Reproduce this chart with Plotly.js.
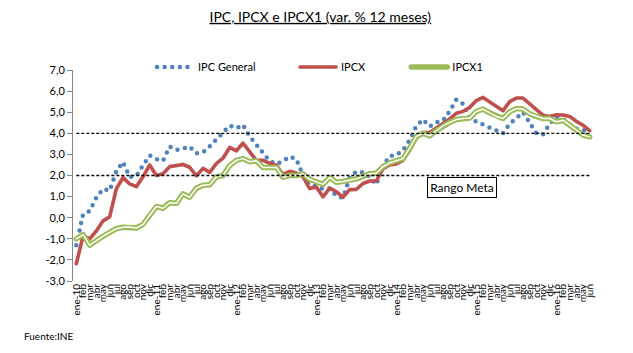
<!DOCTYPE html>
<html>
<head>
<meta charset="utf-8">
<script src="https://cdn.plot.ly/plotly-3.0.1.min.js"></script>
<style>
  html, body { margin: 0; padding: 0; background: #fff; }
  #chart { width: 633px; height: 353px; }
  .js-line { stroke-linecap: round; stroke-linejoin: round; }
</style>
</head>
<body>
<div id="chart"></div>
<script>
// Categories (monthly, ene-10 .. jun-16)
const months = [
  'ene-10','feb-10','mar-10','abr-10','may-10','jun-10','jul-10','ago-10','sep-10','oct-10','nov-10','dic-10',
  'ene-11','feb-11','mar-11','abr-11','may-11','jun-11','jul-11','ago-11','sep-11','oct-11','nov-11','dic-11',
  'ene-12','feb-12','mar-12','abr-12','may-12','jun-12','jul-12','ago-12','sep-12','oct-12','nov-12','dic-12',
  'ene-13','feb-13','mar-13','abr-13','may-13','jun-13','jul-13','ago-13','sep-13','oct-13','nov-13','dic-13',
  'ene-14','feb-14','mar-14','abr-14','may-14','jun-14','jul-14','ago-14','sep-14','oct-14','nov-14','dic-14',
  'ene-15','feb-15','mar-15','abr-15','may-15','jun-15','jul-15','ago-15','sep-15','oct-15','nov-15','dic-15',
  'ene-16','feb-16','mar-16','abr-16','may-16','jun-16'
];
// Tick labels as shown on the axis
const monthLabels = [
  'ene-10','feb','mar','abr','may','jun','jul','ago','sep','oct','nov','dic',
  'ene-11','feb','mar','abr','may','jun','jul','ago','sep','oct','nov','dic',
  'ene-12','feb','mar','abr','may','jun','jul','ago','sep','oct','nov','dic',
  'ene-13','feb','mar','abr','may','jun','jul','ago','sep','oct','nov','dic',
  'ene-14','feb','mar','abr','may','jun','jul','ago','sep','oct','nov','dic',
  'ene-15','feb','mar','abr','may','jun','jul','ago','sep','oct','nov','dic',
  'ene-16','feb','mar','abr','may','jun'
];
// Series (var. % 12 meses)
const ipcGeneral = [
  -1.31, 0.15, 0.32, 0.95, 1.36, 1.28, 2.20, 2.64, 1.93, 1.98, 2.48, 2.95,
  2.78, 2.70, 3.37, 3.21, 3.28, 3.37, 3.05, 3.10, 3.38, 3.72, 4.00, 4.36,
  4.24, 4.40, 3.85, 3.46, 3.07, 2.68, 2.55, 2.68, 2.90, 2.78, 2.00, 1.58,
  1.48, 1.37, 1.39, 1.03, 0.95, 1.88, 2.20, 2.15, 1.93, 1.57, 2.45, 2.92,
  2.97, 3.20, 3.68, 4.35, 4.65, 4.32, 4.52, 4.60, 5.05, 5.60, 5.40, 4.75,
  4.55, 4.40, 4.25, 4.12, 4.00, 4.45, 4.75, 5.00, 4.50, 4.00, 3.95, 4.45,
  4.77, 4.68, 4.42, 4.22, 4.15, 4.10
];
const ipcx = [
  -2.18, -0.88, -1.00, -0.63, -0.15, 0.04, 1.37, 1.90, 1.60, 1.47, 1.94, 2.50,
  2.00, 2.08, 2.42, 2.49, 2.52, 2.39, 1.98, 2.34, 2.15, 2.56, 2.82, 3.33,
  3.17, 3.53, 3.13, 2.72, 2.72, 2.58, 2.49, 2.05, 2.20, 2.12, 1.95, 1.38,
  1.45, 0.99, 1.40, 1.23, 0.97, 1.33, 1.34, 1.62, 1.74, 1.75, 2.32, 2.50,
  2.55, 2.72, 3.20, 3.77, 4.04, 4.04, 4.25, 4.45, 4.68, 4.95, 5.04, 5.22,
  5.55, 5.70, 5.50, 5.30, 5.07, 5.50, 5.67, 5.67, 5.38, 5.10, 4.85, 4.80,
  4.88, 4.87, 4.80, 4.57, 4.38, 4.13
];
const ipcx1 = [
  -1.00, -0.80, -1.30, -1.07, -0.88, -0.70, -0.52, -0.45, -0.44, -0.49, -0.32, 0.12,
  0.53, 0.45, 0.71, 0.68, 1.13, 0.97, 1.40, 1.54, 1.56, 1.93, 2.00, 2.47,
  2.72, 2.80, 2.65, 2.70, 2.38, 2.38, 2.38, 1.92, 2.00, 2.00, 2.08, 1.82,
  1.70, 1.58, 1.91, 1.68, 1.72, 1.77, 1.84, 1.96, 2.08, 2.11, 2.42, 2.60,
  2.70, 2.80, 3.30, 3.85, 4.00, 3.88, 4.12, 4.35, 4.52, 4.65, 4.70, 4.72,
  5.03, 5.15, 4.97, 4.80, 4.70, 5.02, 5.17, 5.15, 4.93, 4.80, 4.70, 4.70,
  4.55, 4.62, 4.40, 4.15, 3.92, 3.83
];
// Rango meta (target band)
const rangoMetaInf = 2.0;
const rangoMetaSup = 4.0;
// Y tick values / labels
const yTickVals = [-3, -2, -1, 0, 1, 2, 3, 4, 5, 6, 7];
const yTickLabels = ['-3,0','-2,0','-1,0','0,0','1,0','2,0','3,0','4,0','5,0','6,0','7,0'];

const FONT = 'Lato, "Open Sans", "Liberation Sans", sans-serif';
const axisGray = '#868686';

const traces = [
  {
    name: 'IPC General', x: months, y: ipcGeneral, type: 'scatter', mode: 'lines',
    line: { color: '#4F81BD', width: 4.5, dash: '0px,7.6px' },
    legend: 'legend', hoverinfo: 'skip'
  },
  {
    name: 'IPCX', x: months, y: ipcx, type: 'scatter', mode: 'lines',
    line: { color: '#C0504D', width: 3.6 },
    legend: 'legend2', hoverinfo: 'skip'
  },
  {
    name: 'IPCX1', x: months, y: ipcx1, type: 'scatter', mode: 'lines',
    line: { color: '#9BBB59', width: 5.5 },
    legend: 'legend3', hoverinfo: 'skip'
  },
  {
    name: 'IPCX1 (centro)', x: months, y: ipcx1, type: 'scatter', mode: 'lines',
    line: { color: '#FFFFFF', width: 1.5 },
    showlegend: false, hoverinfo: 'skip'
  }
];

const legendBase = {
  orientation: 'h', xanchor: 'left', yanchor: 'middle',
  bgcolor: 'rgba(0,0,0,0)', borderwidth: 0, itemwidth: 36,
  font: { family: FONT, size: 11, color: '#000' }
};

const layout = {
  width: 633, height: 353, autosize: false,
  margin: { l: 73, r: 40, t: 70, b: 72, pad: 0 },
  paper_bgcolor: '#fff', plot_bgcolor: '#fff',
  font: { family: FONT, color: '#000' },
  title: {
    text: '<u>IPC, IPCX e IPCX1 (var. % 12 meses)</u>',
    font: { family: FONT, size: 14, color: '#000' },
    x: 0.506, xref: 'container', xanchor: 'center',
    y: 0.952, yref: 'container', yanchor: 'middle'
  },
  xaxis: {
    type: 'category', range: [-0.5, months.length - 0.5],
    tickmode: 'array', tickvals: months, ticktext: monthLabels,
    tickangle: -90, ticks: '', showline: false, showgrid: false, zeroline: false,
    tickfont: { family: FONT, size: 10, color: '#000' },
    fixedrange: true
  },
  xaxis2: {
    type: 'linear', overlaying: 'x', anchor: 'free', position: 0.3,
    range: [-0.5, months.length - 0.5], tickmode: 'linear', tick0: -0.5, dtick: 1,
    showline: true, linecolor: axisGray, linewidth: 1,
    ticks: 'outside', ticklen: 4, tickcolor: axisGray, tickwidth: 1,
    showticklabels: false, showgrid: false, zeroline: false, fixedrange: true
  },
  yaxis: {
    range: [-3, 7], tickmode: 'array', tickvals: yTickVals, ticktext: yTickLabels,
    showline: true, linecolor: axisGray, linewidth: 1,
    ticks: 'outside', ticklen: 5, tickcolor: axisGray,
    showgrid: false, zeroline: false,
    tickfont: { family: FONT, size: 11, color: '#000' },
    fixedrange: true
  },
  legend:  Object.assign({}, legendBase, { x: 0.152, y: 1.014 }),
  legend2: Object.assign({}, legendBase, { x: 0.427, y: 1.014 }),
  legend3: Object.assign({}, legendBase, { x: 0.641, y: 1.014 }),
  shapes: [
    { type: 'line', xref: 'x', yref: 'y', x0: 0, x1: months.length - 1, y0: rangoMetaSup, y1: rangoMetaSup,
      line: { color: '#000', width: 1.3, dash: '3px,2px' }, layer: 'above' },
    { type: 'line', xref: 'x', yref: 'y', x0: 0, x1: months.length - 1, y0: rangoMetaInf, y1: rangoMetaInf,
      line: { color: '#000', width: 1.3, dash: '3px,2px' }, layer: 'above' }
  ],
  annotations: [
    { text: 'Rango Meta', xref: 'paper', yref: 'paper', x: 0.749, y: 0.443,
      xanchor: 'center', yanchor: 'middle', showarrow: false,
      font: { family: FONT, size: 12, color: '#000' },
      bgcolor: '#fff', bordercolor: '#000', borderwidth: 1, borderpad: 2, width: 64 },
    { text: 'Fuente:INE', xref: 'paper', yref: 'paper', x: -0.098, y: -0.261,
      xanchor: 'left', yanchor: 'middle', showarrow: false,
      font: { family: FONT, size: 10, color: '#000' } }
  ],
  showlegend: true
};

Plotly.newPlot('chart', traces, layout, { displayModeBar: false, staticPlot: true }).then(function (gd) {
  // double-line look for the IPCX1 legend sample
  gd.querySelectorAll('g.traces').forEach(function (g) {
    const t = g.querySelector('.legendtext');
    if (t && t.textContent === 'IPCX1') {
      const p = g.querySelector('.legendlines path');
      if (p) {
        const c = p.cloneNode(true);
        c.style.stroke = '#FFFFFF';
        c.style.strokeWidth = '1.5px';
        p.parentNode.appendChild(c);
      }
    }
  });
});
</script>
</body>
</html>
